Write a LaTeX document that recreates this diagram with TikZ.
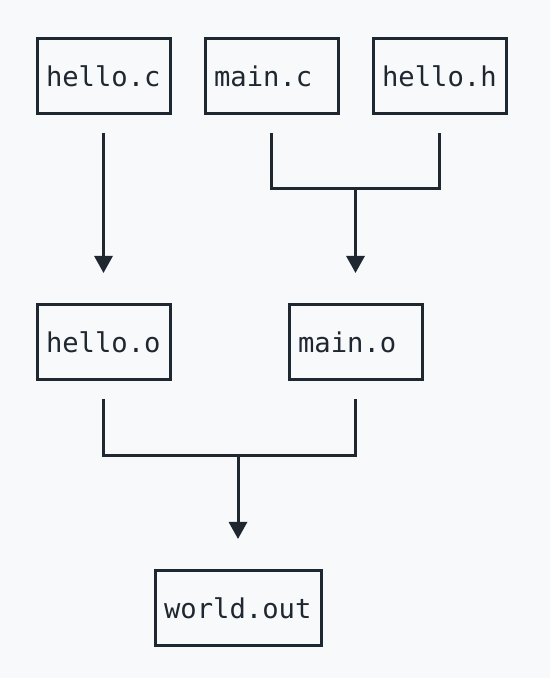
\documentclass[tikz,border=0pt]{standalone}
\usepackage{fontspec}
\setmonofont{DejaVu Sans Mono}
\usepackage{xcolor}
\usetikzlibrary{calc,arrows.meta,positioning}
\definecolor{inkdark}{HTML}{1F2731}
\definecolor{paperbg}{HTML}{F8F9FA}

\tikzset{
    file/.style={draw=inkdark, line width=1.5pt, minimum height=37.5pt,
        inner xsep=4.5pt, text width=57.5pt, align=left,
        font=\ttfamily\fontsize{13.6}{16}\selectfont, text=inkdark},
    link/.style={draw=inkdark, line width=1.5pt, shorten <=9pt},
    flow/.style={draw=inkdark, line width=1.5pt,
        -{Triangle[width=9pt,length=8.5pt]}, shorten >=15pt},
}

\begin{document}
\begin{tikzpicture}[x=0.5pt,y=0.5pt]
    \fill[paperbg] (0,0) rectangle (550,678);
    \useasboundingbox (0,0) rectangle (550,678);

    % sources
    \node[file] (helloc) at (103.5,602) {hello.c};
    \node[file] (mainc)  at (271.5,602) {main.c};
    \node[file] (helloh) at (439.5,602) {hello.h};

    % objects
    \node[file] (helloo) at (103.5,336) {hello.o};
    \node[file] (maino)  at (355.5,336) {main.o};

    % linked program
    \node[file, text width=74pt] (worldout) at (238,70) {world.out};

    \coordinate (joinc) at (355.5,489);
    \coordinate (joino) at (238,222);

    \draw[flow, shorten <=9pt] (helloc.south) -- (helloo.north);

    \draw[link, shorten >=9pt] (mainc.south) |- (joinc) -| (helloh.south);
    \draw[flow] (joinc) -- (maino.north);

    \draw[link, shorten >=9pt] (helloo.south) |- (joino) -| (maino.south);
    \draw[flow] (joino) -- (worldout.north);
\end{tikzpicture}
\end{document}
